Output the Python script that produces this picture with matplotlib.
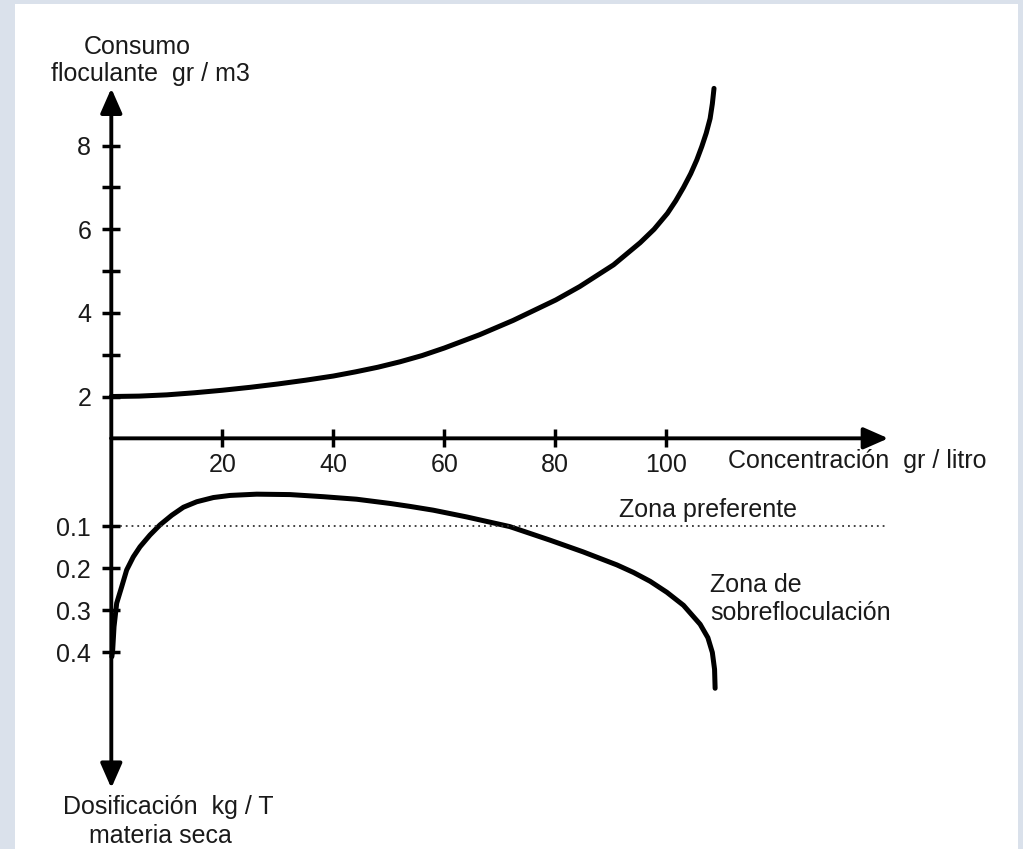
import matplotlib
matplotlib.use('Agg')
import matplotlib.pyplot as plt
from matplotlib.patches import Rectangle

plt.rcParams['font.family'] = ['Liberation Sans', 'DejaVu Sans']

# Consumo de floculante (gr/m3) vs concentracion (gr/litro)
conc_top = [0, 5, 10, 15, 20, 25, 30, 35, 40, 44, 48, 52, 56, 60, 66.4,
            72.4, 80.1, 84.4, 90.5, 95.3, 97.8, 100.2, 101.7, 103.1, 104.4,
            105.5, 106.4, 107.2, 107.9, 108.3, 108.6]
consumo = [2.00, 2.01, 2.04, 2.09, 2.15, 2.22, 2.30, 2.39, 2.49, 2.59, 2.70,
           2.83, 2.98, 3.16, 3.48, 3.82, 4.31, 4.63, 5.15, 5.68, 6.00, 6.38,
           6.68, 7.00, 7.33, 7.66, 7.98, 8.30, 8.65, 9.00, 9.37]

# Dosificacion (kg/T materia seca) vs concentracion
conc_bot = [0.1, 0.25, 0.49, 0.97, 1.87, 2.77, 3.96, 5.17, 6.97, 8.77, 10.9,
            13.0, 15.4, 18.4, 21.4, 26.2, 32.2, 38.2, 44.2, 50.2, 53.8, 58.0,
            64.0, 71.8, 79.0, 85.0, 91.1, 94.1, 97.1, 100.1, 103.1, 106.1,
            107.5, 108.3, 108.7, 108.8]
dosis = [0.41, 0.394, 0.339, 0.283, 0.244, 0.204, 0.173, 0.149, 0.121, 0.097,
         0.074, 0.055, 0.042, 0.032, 0.027, 0.024, 0.025, 0.030, 0.036, 0.046,
         0.053, 0.062, 0.078, 0.101, 0.133, 0.161, 0.192, 0.210, 0.231, 0.257,
         0.288, 0.333, 0.365, 0.400, 0.440, 0.485]

x_ticks = [20, 40, 60, 80, 100]
top_major = [2, 4, 6, 8]
top_minor = [3, 5, 7]
bot_ticks = [0.1, 0.2, 0.3, 0.4]
zona_pref = 0.1

txt = '#1a1a1a'
fs = 18

fig = plt.figure(figsize=(10.23, 8.49), dpi=100)
fig.patch.set_facecolor('#dae1eb')
fig.patches.append(Rectangle((15 / 1023, 0), 1003 / 1023, 845 / 849,
                             transform=fig.transFigure, facecolor='white',
                             edgecolor='none', zorder=-10))

ax1 = fig.add_axes([0.1088, 0.4837, 0.7595, 0.4122])
ax2 = fig.add_axes([0.1088, 0.0718, 0.7595, 0.4119])

for ax in (ax1, ax2):
    ax.set_facecolor('none')
    ax.set_zorder(2)
    for s in ax.spines.values():
        s.set_visible(False)
    ax.set_xlim(0, 140)

ax1.set_ylim(1, 9.37)
ax2.set_ylim(0.722, -0.1086)

arrow = dict(arrowstyle='-|>,head_length=0.75,head_width=0.33',
             color='black', lw=2.8, mutation_scale=20,
             shrinkA=0, shrinkB=0)
ax1.annotate('', xy=(0, 1), xytext=(0, 0), xycoords='axes fraction',
             arrowprops=arrow, annotation_clip=False)
ax1.annotate('', xy=(1, 0), xytext=(0, 0), xycoords='axes fraction',
             arrowprops=arrow, annotation_clip=False)
ax2.annotate('', xy=(0, 0), xytext=(0, 1), xycoords='axes fraction',
             arrowprops=arrow, annotation_clip=False)

# ticks
ax1.set_yticks(top_major)
ax1.set_yticks(top_minor, minor=True)
ax1.set_xticks(x_ticks)
ax1.tick_params(which='both', direction='inout', length=13, width=2.5,
                labelsize=fs, labelcolor=txt)
ax1.tick_params(axis='x', pad=4)
ax1.tick_params(axis='y', which='both', pad=8)
ax2.set_xticks([])
ax2.set_yticks(bot_ticks)
ax2.set_yticklabels([str(v) for v in bot_ticks])
ax2.tick_params(direction='inout', length=13, width=2.5, labelsize=fs,
                labelcolor=txt, pad=8)

# curves
ax1.plot(conc_top, consumo, color='black', lw=3.6, solid_capstyle='round',
         solid_joinstyle='round', clip_on=False)
ax2.plot(conc_bot, dosis, color='black', lw=3.6, solid_capstyle='round',
         solid_joinstyle='round', clip_on=False)
ax2.plot([1.5, 139.5], [zona_pref, zona_pref], color='#333333', lw=1.3,
         linestyle=(0, (1, 2.2)))

# texts
fig.text(137 / 1023, 1 - 47 / 849, 'Consumo', ha='center', va='center',
         fontsize=fs, color=txt)
fig.text(150 / 1023, 1 - 74 / 849, 'floculante  gr / m3', ha='center',
         va='center', fontsize=fs, color=txt)
fig.text(168 / 1023, 1 - 807 / 849, 'Dosificación  kg / T', ha='center',
         va='center', fontsize=fs, color=txt)
fig.text(160 / 1023, 1 - 836 / 849, 'materia seca', ha='center',
         va='center', fontsize=fs, color=txt)
fig.text(728 / 1023, 1 - 461 / 849, 'Concentración  gr / litro',
         ha='left', va='center', fontsize=fs, color=txt)
ax2.text(91.5, 0.062, 'Zona preferente', ha='left', va='center',
         fontsize=fs, color=txt)
ax2.text(107.9, 0.273, 'Zona de\nsobrefloculación', ha='left', va='center',
         fontsize=fs, color=txt, linespacing=1.2)

fig.savefig('out.png', dpi=100, facecolor=fig.get_facecolor())
